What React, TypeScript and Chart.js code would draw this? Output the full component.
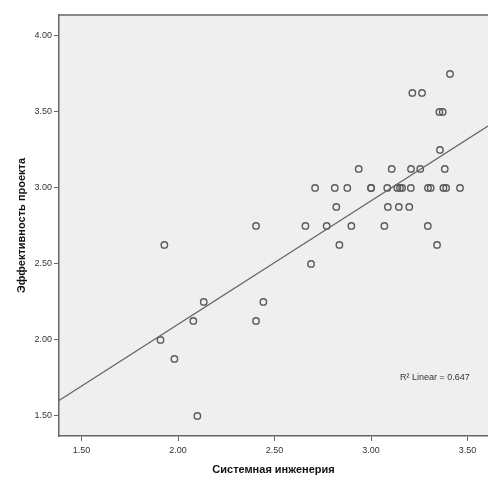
import React, { useEffect, useRef } from "react";
import { Chart, registerables } from "chart.js";

Chart.register(...registerables);

// Системная инженерия (x) and Эффективность проекта (y)
const sysEng: number[] = [
  2.71, 2.812, 2.877, 3.0, 3.0, 3.084, 3.136, 3.15, 3.161, 3.206, 3.295, 3.309, 3.375, 3.389, 3.461,
  2.936, 3.107, 3.207, 3.255, 3.382,
  2.82, 3.087, 3.144, 3.198,
  2.404, 2.66, 2.77, 2.898, 3.069, 3.294,
  1.929, 2.836, 3.342,
  2.689,
  2.133, 2.442,
  2.079, 2.404,
  1.909,
  1.981,
  2.1,
  3.357,
  3.354, 3.371,
  3.214, 3.264,
  3.409,
];
const projEff: number[] = [
  3.0, 3.0, 3.0, 3.0, 3.0, 3.0, 3.0, 3.0, 3.0, 3.0, 3.0, 3.0, 3.0, 3.0, 3.0,
  3.125, 3.125, 3.125, 3.125, 3.125,
  2.875, 2.875, 2.875, 2.875,
  2.75, 2.75, 2.75, 2.75, 2.75, 2.75,
  2.625, 2.625, 2.625,
  2.5,
  2.25, 2.25,
  2.125, 2.125,
  2.0,
  1.875,
  1.5,
  3.25,
  3.5, 3.5,
  3.625, 3.625,
  3.75,
];

const fitSlope = 0.8124;
const fitIntercept = 0.478;
const rSquaredLabel = "R² Linear = 0.647";
const rLabelAt = { x: 3.15, y: 1.75 };

const xTicks = [1.5, 2.0, 2.5, 3.0, 3.5];
const yTicks = [1.5, 2.0, 2.5, 3.0, 3.5, 4.0];
const xRange = { min: 1.383, max: 3.606 };
const yRange = { min: 1.368, max: 4.138 };

const xTitle = "Системная инженерия";
const yTitle = "Эффективность проекта";

const tickFont = { family: "'Liberation Sans Narrow', 'Liberation Sans', Arial, sans-serif", size: 9 };
const titleFont = { family: "'Liberation Sans', Arial, sans-serif", size: 11, weight: "bold" as const };

const framePlugin = {
  id: "frame",
  beforeDraw(chart: any) {
    const { ctx, chartArea } = chart;
    ctx.save();
    ctx.fillStyle = "#efefef";
    ctx.fillRect(chartArea.left, chartArea.top, chartArea.right - chartArea.left, chartArea.bottom - chartArea.top);
    ctx.restore();
  },
  afterDraw(chart: any) {
    const { ctx, chartArea, scales } = chart;
    ctx.save();
    ctx.strokeStyle = "#666666";
    ctx.lineWidth = 1.5;
    ctx.beginPath();
    ctx.moveTo(chartArea.left, chartArea.top);
    ctx.lineTo(chartArea.right, chartArea.top);
    ctx.stroke();
    ctx.fillStyle = "#333333";
    ctx.font = `9px ${tickFont.family}`;
    ctx.textAlign = "left";
    ctx.textBaseline = "middle";
    ctx.fillText(rSquaredLabel, scales.x.getPixelForValue(rLabelAt.x), scales.y.getPixelForValue(rLabelAt.y));
    ctx.restore();
  },
};

export default function App() {
  const ref = useRef<HTMLCanvasElement | null>(null);
  useEffect(() => {
    if (!ref.current) return;
    const points = sysEng.map((x, i) => ({ x, y: projEff[i] }));
    const fitLine = [xRange.min, xRange.max].map((x) => ({ x, y: fitIntercept + fitSlope * x }));
    const chart = new Chart(ref.current, {
      type: "scatter",
      data: {
        datasets: [
          {
            type: "line",
            data: fitLine,
            borderColor: "#666666",
            borderWidth: 1.4,
            pointRadius: 0,
            fill: false,
          } as any,
          {
            data: points,
            pointStyle: "circle",
            pointRadius: 3.2,
            pointBorderWidth: 1.4,
            pointBorderColor: "#5a5a5a",
            pointBackgroundColor: "rgba(0,0,0,0)",
          },
        ],
      },
      options: {
        animation: false,
        responsive: false,
        maintainAspectRatio: false,
        layout: { autoPadding: false, padding: { top: 15, left: 0, right: 0, bottom: 0 } },
        plugins: { legend: { display: false }, tooltip: { enabled: false } },
        scales: {
          x: {
            type: "linear",
            min: xRange.min,
            max: xRange.max,
            afterBuildTicks: (s: any) => { s.ticks = xTicks.map((v) => ({ value: v })); },
            afterFit: (s: any) => { s.height = 44; s.paddingLeft = 0; s.paddingRight = 0; },
            grid: { drawOnChartArea: false, drawTicks: true, tickLength: 5, color: "#666666", lineWidth: 1 },
            border: { display: true, color: "#666666", width: 1.5 },
            ticks: {
              font: tickFont,
              color: "#333333",
              padding: 4,
              maxRotation: 0,
              callback: (v: any) => Number(v).toFixed(2),
            },
            title: { display: true, text: xTitle, font: titleFont, color: "#111111", padding: { top: 0, bottom: 3.5 } },
          },
          y: {
            type: "linear",
            min: yRange.min,
            max: yRange.max,
            afterBuildTicks: (s: any) => { s.ticks = yTicks.map((v) => ({ value: v })); },
            afterFit: (s: any) => { s.width = 59; s.paddingTop = 0; s.paddingBottom = 0; },
            grid: { drawOnChartArea: false, drawTicks: true, tickLength: 5, color: "#666666", lineWidth: 1 },
            border: { display: true, color: "#666666", width: 1.5 },
            ticks: {
              font: tickFont,
              color: "#333333",
              padding: 2,
              callback: (v: any) => Number(v).toFixed(2),
            },
            title: { display: true, text: yTitle, font: titleFont, color: "#111111", padding: { top: 15, bottom: 0 } },
          },
        },
      },
      plugins: [framePlugin],
    });
    return () => chart.destroy();
  }, []);
  return (
    <div style={{ position: "absolute", left: 0, top: 0, width: 488, height: 480, background: "#ffffff" }}>
      <canvas ref={ref} width={488} height={480} style={{ width: 488, height: 480 }} />
    </div>
  );
}
